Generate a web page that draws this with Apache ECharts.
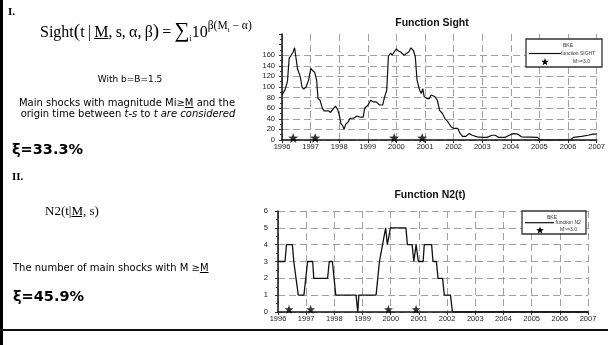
<!DOCTYPE html>
<html><head><meta charset="utf-8">
<script src="https://cdn.jsdelivr.net/npm/echarts@6/dist/echarts.min.js"></script>
<style>
html,body{margin:0;padding:0;background:#fff;}
#wrap{position:relative;width:608px;height:345px;overflow:hidden;}
#chart{position:absolute;left:0;top:0;width:608px;height:345px;}
.t{position:absolute;white-space:nowrap;color:#000;}
.serif{font-family:'Liberation Serif','DejaVu Serif',serif;}
.sans{font-family:'DejaVu Sans',sans-serif;font-size:10px;}
.big{font-family:'DejaVu Sans',sans-serif;font-weight:bold;font-size:14.5px;}
sub,sup{line-height:0;}
</style></head>
<body><div id="wrap"><div id="chart"></div>
<div class="t serif" style="left:8px;top:5px;font-weight:bold;font-size:11px;">I.</div>
<div class="t serif" style="left:40px;top:18px;font-size:16px;">Sight<span style="font-size:19px">(</span>t&thinsp;|&thinsp;<u>M</u>,&thinsp;s,&thinsp;α,&thinsp;β<span style="font-size:19px">)</span>&thinsp;=&thinsp;<span style="font-size:21px">∑</span><sub style="font-size:8px">i</sub>10<sup style="font-size:11.5px;position:relative;top:-2px">β(M<sub style="font-size:7px">i</sub> − α)</sup></div>
<div class="t sans" style="left:30px;width:200px;text-align:center;top:74px;font-size:9px;">With b=B=1.5</div>
<div class="t sans" style="left:0;width:254px;text-align:center;top:97px;">Main shocks with magnitude Mi≥<u>M</u> and the</div>
<div class="t sans" style="left:0;width:256px;text-align:center;top:108px;">origin time between <i>t-s</i> to <i>t are considered</i></div>
<div class="t big" style="left:12px;top:141px;">ξ=33.3%</div>
<div class="t serif" style="left:12px;top:170px;font-weight:bold;font-size:11px;">II.</div>
<div class="t serif" style="left:45px;top:203px;font-size:13px;">N2(t|<u>M,</u> s)</div>
<div class="t sans" style="left:13px;top:262px;">The number of main shocks with M ≥<u>M</u></div>
<div class="t big" style="left:13px;top:288px;">ξ=45.9%</div>
</div>
<script>
const yearTicks = [1996,1997,1998,1999,2000,2001,2002,2003,2004,2005,2006,2007];
const sightYears = [1996.00,1996.10,1996.19,1996.25,1996.31,1996.39,1996.44,1996.50,1996.54,1996.59,1996.64,1996.70,1996.76,1996.84,1996.93,1997.01,1997.07,1997.14,1997.21,1997.26,1997.33,1997.41,1997.47,1997.62,1997.70,1997.75,1997.81,1997.87,1997.95,1998.01,1998.06,1998.12,1998.17,1998.23,1998.30,1998.38,1998.50,1998.61,1998.67,1998.76,1998.84,1998.89,1999.01,1999.10,1999.18,1999.29,1999.41,1999.52,1999.58,1999.66,1999.69,1999.72,1999.80,1999.85,1999.92,2000.00,2000.07,2000.15,2000.26,2000.35,2000.43,2000.51,2000.60,2000.66,2000.72,2000.77,2000.81,2000.87,2000.92,2000.97,2001.06,2001.15,2001.21,2001.26,2001.34,2001.43,2001.51,2001.61,2001.69,2001.75,2001.80,2001.91,2001.99,2002.14,2002.23,2002.31,2002.43,2002.54,2002.65,2002.83,2003.00,2003.17,2003.34,2003.45,2003.57,2003.80,2003.91,2004.08,2004.25,2004.37,2004.93,2005.03,2006.07,2006.19,2006.47,2006.70,2006.87,2007.00];
const sightValues = [85,94,110,154,156,166,174,174,135,133,119,100,96,100,113,135,131,128,113,78,75,60,55,55,52,56,54,64,57,45,31,27,20,30,33,41,41,45,48,43,43,60,66,75,72,72,66,66,80,94,125,158,164,160,166,172,168,166,160,163,166,174,168,157,113,110,94,88,97,82,78,78,85,88,82,75,56,50,41,38,34,25,22,22,12,7,7,12,9,6,5,5,9,9,5,5,8,12,11,6,5,0,0,5,7,9,11,11];
const n2Years = [1996.00,1996.25,1996.30,1996.51,1996.56,1996.62,1996.72,1996.92,1997.05,1997.23,1997.27,1997.76,1997.82,1997.93,1998.05,1998.77,1998.83,1998.87,1999.48,1999.60,1999.65,1999.71,1999.77,1999.82,1999.88,1999.92,1999.99,2000.54,2000.59,2000.76,2000.82,2000.90,2000.98,2001.15,2001.19,2001.45,2001.50,2001.62,2001.68,2001.84,2001.90,2002.12,2002.19,2007.00];
const n2Values = [3,3,4,4,3,3,1,1,3,3,2,2,3,3,1,1,0,1,1,3,3,4,4,5,4,4,5,5,4,4,3,4,3,3,4,4,3,3,2,2,1,1,0,0];
const starYears = [1996.39,1997.16,1999.92,2000.90];
const sightTicks = [0,20,40,60,80,100,120,140,160];
const n2Ticks = [0,1,2,3,4,5,6];
const legendSight = ['BKE','function SIGHT','M>=3.0'];
const legendN2 = ['BKE','function N2','M>=3.0'];
const titles = ['Function Sight','Function N2(t)'];

const STAR = 'path://M0,-10L2.35,-3.24L9.51,-3.09L3.8,1.24L5.88,8.09L0,4.4L-5.88,8.09L-3.8,1.24L-9.51,-3.09L-2.35,-3.24Z';
const zip = (a,b) => a.map((x,i)=>[x,b[i]]);
const FONT = "'Liberation Sans', Arial, sans-serif";
const gridCol = '#a0a0a0';

function xAxis(gi){
  return {type:'value',gridIndex:gi,min:yearTicks[0],max:yearTicks[yearTicks.length-1],interval:1,
    axisLine:{show:true,lineStyle:{color:'#111',width:1.5}},
    axisTick:{show:true,length:3,lineStyle:{color:'#333'}},
    axisLabel:{fontSize:7.5,color:'#222',fontFamily:FONT,margin:3,showMaxLabel:true,showMinLabel:true,
      formatter:v=>yearTicks.indexOf(v)>=0?String(v):''},
    splitLine:{show:true,lineStyle:{color:gridCol,type:[7,4],width:1}}};
}
function starGraphic(cx,cy,r){
  const pts=[];
  for(let i=0;i<10;i++){
    const a=-Math.PI/2+i*Math.PI/5, rr=(i%2===0)?r:r*0.42;
    pts.push([cx+rr*Math.cos(a), cy+rr*Math.sin(a)+r*0.1]);
  }
  return {type:'polygon',shape:{points:pts},style:{fill:'#000'}};
}
function legendBox(x,y,w,h,labels,bkeX,bkeY,lx1,lx2,ly,tx,sx,sy,mx){
  return [
    {type:'rect',shape:{x:x,y:y,width:w,height:h},style:{fill:'#fff',stroke:'#333',lineWidth:1.3},z:100},
    {type:'text',x:bkeX,y:bkeY,style:{text:labels[0],fontSize:5,fontFamily:FONT,fill:'#333',align:'center',verticalAlign:'middle'},z:101},
    {type:'line',shape:{x1:lx1,y1:ly,x2:lx2,y2:ly},style:{stroke:'#111',lineWidth:1.2},z:101},
    {type:'text',x:tx,y:ly,style:{text:labels[1],fontSize:5,fontFamily:FONT,fill:'#333',align:'left',verticalAlign:'middle'},z:101},
    Object.assign(starGraphic(sx,sy,4),{z:101}),
    {type:'text',x:mx,y:sy,style:{text:labels[2],fontSize:5,fontFamily:FONT,fill:'#333',align:'left',verticalAlign:'middle'},z:101}
  ];
}

const chart = echarts.init(document.getElementById('chart'),null,{renderer:'canvas'});
const topColors = [];
for(let v=0; v<=200; v+=20){ topColors.push(v<=sightTicks[sightTicks.length-1] ? gridCol : 'rgba(0,0,0,0)'); }

chart.setOption({
  animation:false,
  backgroundColor:'transparent',
  title:[
    {text:titles[0],left:427,top:13,textAlign:'center',textStyle:{fontSize:10.5,fontWeight:'bold',fontFamily:FONT,color:'#111'}},
    {text:titles[1],left:425,top:185,textAlign:'center',textStyle:{fontSize:10.5,fontWeight:'bold',fontFamily:FONT,color:'#111'}}
  ],
  grid:[
    {left:282,top:34,width:323.5,height:106},
    {left:278,top:211,width:310,height:101}
  ],
  xAxis:[xAxis(0),xAxis(1)],
  yAxis:[
    {type:'value',gridIndex:0,min:0,max:200,interval:20,
     axisLine:{show:true,lineStyle:{color:'#111',width:1.5}},
     axisTick:{show:true,length:3,lineStyle:{color:'#333'}},
     minorTick:{show:true,splitNumber:2,length:2,lineStyle:{color:'#333'}},
     axisLabel:{fontSize:7.5,color:'#222',fontFamily:FONT,margin:7,
       formatter:v=>sightTicks.indexOf(v)>=0?String(v):''},
     splitLine:{show:true,lineStyle:{color:topColors,type:[7,4],width:1}}},
    {type:'value',gridIndex:1,min:0,max:6,interval:1,
     axisLine:{show:true,lineStyle:{color:'#111',width:1.5}},
     axisTick:{show:true,length:3,lineStyle:{color:'#333'}},
     minorTick:{show:true,splitNumber:2,length:2,lineStyle:{color:'#333'}},
     axisLabel:{fontSize:7.5,color:'#222',fontFamily:FONT,margin:10,
       formatter:v=>n2Ticks.indexOf(v)>=0?String(v):''},
     splitLine:{show:true,lineStyle:{color:gridCol,type:[7,4],width:1}}}
  ],
  series:[
    {type:'line',xAxisIndex:0,yAxisIndex:0,data:zip(sightYears,sightValues),showSymbol:false,
     lineStyle:{color:'#111',width:1.2},z:5},
    {type:'scatter',xAxisIndex:0,yAxisIndex:0,data:starYears.map(t=>[t,4]),symbol:STAR,symbolSize:10,
     itemStyle:{color:'#000'},z:6},
    {type:'line',xAxisIndex:1,yAxisIndex:1,data:zip(n2Years,n2Values),showSymbol:false,
     lineStyle:{color:'#111',width:1.3},z:5},
    {type:'scatter',xAxisIndex:1,yAxisIndex:1,data:starYears.map(t=>[t,0.16]),symbol:STAR,symbolSize:9,
     itemStyle:{color:'#000'},z:6}
  ],
  graphic:[
    {type:'rect',shape:{x:0,y:0,width:3,height:345},style:{fill:'#000'}},
    {type:'rect',shape:{x:0,y:329,width:608,height:2},style:{fill:'#111'}}
  ].concat(
    legendBox(526,39,76,28,legendSight,568,45.5,529,561,53.5,561,545,61.7,573),
    legendBox(522,211,64,23,legendN2,552,217.3,525,554,222.7,555.5,540,230,560)
  )
});
</script></body></html>
